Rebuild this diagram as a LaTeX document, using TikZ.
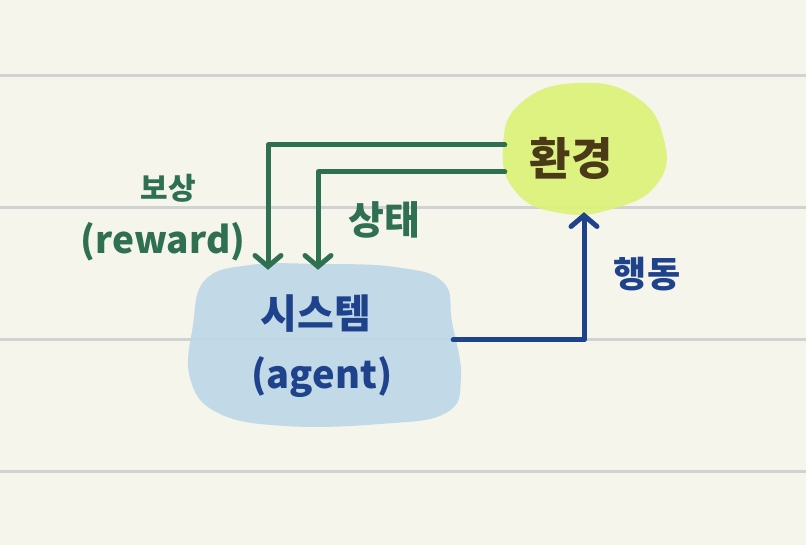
\documentclass[tikz,border=0pt]{standalone}
\usepackage{fontspec}
\newfontfamily\krfont{Noto Sans CJK KR}
\usetikzlibrary{arrows.meta}
\definecolor{paper}{HTML}{F6F5EC}
\definecolor{rulegray}{HTML}{D2D2D2}
\definecolor{envfill}{HTML}{DCF27A}
\definecolor{envink}{HTML}{4B3A17}
\definecolor{agentfill}{HTML}{BDD7E8}
\definecolor{agentink}{HTML}{1F428C}
\definecolor{fbgreen}{HTML}{2F6F52}
\tikzset{
  rule/.style={draw=rulegray, line width=3pt},
  blobnode/.style={inner sep=0pt},
  txt/.style={font=\krfont\bfseries, inner sep=0pt},
  garr/.style={-{Straight Barb[length=11pt,width=26pt,line cap=round]}, line width=5pt, color=fbgreen, line cap=round, line join=round},
  barr/.style={-{Straight Barb[length=11pt,width=26pt,line cap=round]}, line width=5pt, color=agentink, line cap=round, line join=round},
}
\begin{document}
\begin{tikzpicture}[x=1pt,y=-1pt]
  \fill[paper] (0,0) rectangle (806,545);
  \useasboundingbox (0,0) rectangle (806,545);
  \foreach \yy in {76,208,340,471}
    { \draw[rule] (0,\yy) -- (806,\yy); }
  % blobs
  \fill[envfill, opacity=.92] plot[smooth cycle, tension=.8] coordinates
    {(522,102) (578,83) (636,97) (664,140) (657,184) (612,209) (560,213) (516,192) (503,146)};
  \fill[agentfill, opacity=.9] plot[smooth cycle, tension=.7] coordinates
    {(205,280) (250,265) (320,264) (395,267) (443,282) (452,322) (461,378) (446,413) (380,424) (285,426) (218,413) (190,378) (193,325)};
  \node[blobnode, minimum width=162pt, minimum height=130pt] (envblob) at (584,147) {};
  \node[blobnode, minimum width=272pt, minimum height=162pt] (agentblob) at (325,343) {};
  % texts
  \node[txt, color=envink, font=\krfont\bfseries\fontsize{45}{50}\selectfont] (env) at (571,158) {환경};
  \node[txt, color=agentink, font=\krfont\bfseries\fontsize{40}{44}\selectfont] (agent) at (316,314) {시스템};
  \node[txt, color=agentink, font=\krfont\bfseries\fontsize{38}{44}\selectfont] (agentsub) at (322,377) {(agent)};
  \node[txt, color=fbgreen, font=\krfont\bfseries\fontsize{30}{34}\selectfont] (rew) at (168,188) {보상};
  \node[txt, color=fbgreen, font=\krfont\bfseries\fontsize{37}{42}\selectfont] (rewsub) at (163,242) {(reward)};
  \node[txt, color=fbgreen, font=\krfont\bfseries\fontsize{39}{44}\selectfont] (state) at (384,220) {상태};
  \node[txt, color=agentink, font=\krfont\bfseries\fontsize{36}{40}\selectfont] (act) at (647,274) {행동};
  % feedback and action
  \draw[garr] ([shift={(2pt,2pt)}]envblob.west) -| ([shift={(-57pt,-8pt)}]agentblob.north);
  \draw[garr] ([shift={(2pt,-25pt)}]envblob.west) -| ([shift={(-7pt,-8pt)}]agentblob.north);
  \draw[barr] ([shift={(-8pt,3pt)}]agentblob.east) -| (envblob.south);
\end{tikzpicture}
\end{document}
